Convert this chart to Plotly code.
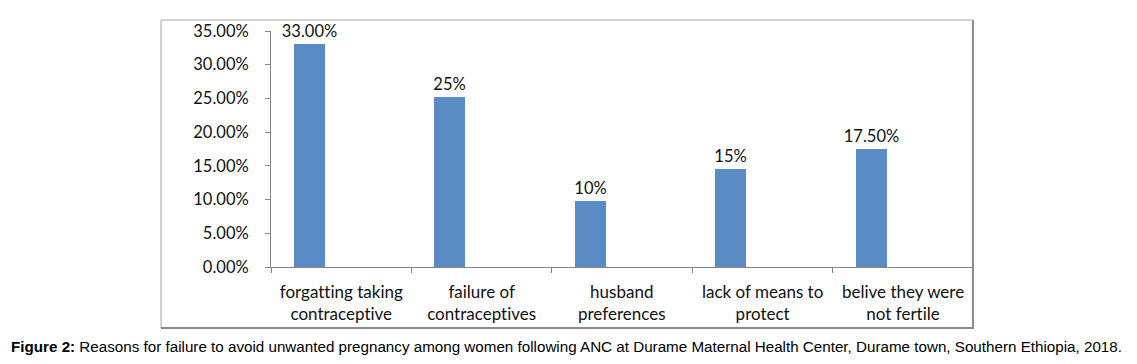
import plotly.graph_objects as go

categories = ["forgatting taking<br>contraceptive", "failure of<br>contraceptives",
              "husband<br>preferences", "lack of means to<br>protect",
              "belive they were<br>not fertile"]
values = [0.33, 0.252, 0.098, 0.145, 0.175]
bar_labels = ["33.00%", "25%", "10%", "15%", "17.50%"]
y_ticks = [0, 0.05, 0.10, 0.15, 0.20, 0.25, 0.30, 0.35]
caption = ("<b>Figure 2:</b> Reasons for failure to avoid unwanted pregnancy among women following ANC "
           "at Durame Maternal Health Center, Durame town, Southern Ethiopia, 2018.")

W, H = 1137, 364
PL, PR, PT, PB = 271, 973, 31, 267  # plot area in pixels


def px_x(p):
    return (p - PL) / (PR - PL)


def px_y(p):
    return (PB - p) / (PB - PT)


xs = list(range(len(values)))
FONT = "Lato"
AX = "#868686"

fig = go.Figure()
fig.add_trace(go.Bar(
    x=xs, y=values, offset=-0.336, width=0.221,
    marker=dict(color="#5B8BC4", line=dict(width=0)),
    text=bar_labels, textposition="outside", cliponaxis=False, constraintext="none",
    textfont=dict(family=FONT, size=16.5, color="#111111"),
    hoverinfo="skip",
))

annotations = []
for i, c in enumerate(categories):
    annotations.append(dict(
        x=i, y=0, xref="x", yref="y", text=c, showarrow=False,
        xanchor="center", yanchor="top", yshift=-12,
        font=dict(family=FONT, size=17, color="#111111"), align="center",
    ))
annotations.append(dict(
    x=px_x(9), y=px_y(346), xref="paper", yref="paper", text=caption,
    showarrow=False, xanchor="left", yanchor="middle",
    font=dict(family="Liberation Sans", size=15.2, color="#000000"),
))

shapes = [
    dict(type="line", xref="paper", yref="paper", x0=px_x(161), x1=px_x(973),
         y0=px_y(20), y1=px_y(20), line=dict(color="#a6a6a6", width=1)),
    dict(type="line", xref="paper", yref="paper", x0=px_x(161), x1=px_x(161),
         y0=px_y(20), y1=px_y(328), line=dict(color="#a6a6a6", width=1)),
    dict(type="line", xref="paper", yref="paper", x0=px_x(973), x1=px_x(973),
         y0=px_y(20), y1=px_y(328), line=dict(color="#8c8c8c", width=2)),
    dict(type="line", xref="paper", yref="paper", x0=px_x(161), x1=px_x(974),
         y0=px_y(328), y1=px_y(328), line=dict(color="#8c8c8c", width=2)),
]

fig.update_layout(
    width=W, height=H,
    margin=dict(l=PL, r=W - PR, t=PT, b=H - PB, pad=0),
    paper_bgcolor="white", plot_bgcolor="white",
    showlegend=False, bargap=0,
    annotations=annotations, shapes=shapes,
    xaxis=dict(range=[-0.5, len(values) - 0.5], tickvals=[i - 0.5 for i in range(len(values) + 1)],
               showticklabels=False, ticks="outside", ticklen=5, tickcolor=AX,
               showline=True, linecolor=AX, linewidth=1, showgrid=False, zeroline=False,
               fixedrange=True),
    yaxis=dict(range=[0, 0.35], tickvals=y_ticks, tickformat=".2%",
               ticks="outside", ticklen=5, tickcolor=AX, ticklabelstandoff=13,
               showline=True, linecolor=AX, linewidth=1, showgrid=False, zeroline=False,
               tickfont=dict(family=FONT, size=16.5, color="#111111"), fixedrange=True),
)

post = ("document.body.style.margin='0';document.body.style.overflow='hidden';"
        "document.head.insertAdjacentHTML('beforeend',"
        "'<style>text{font-variant-ligatures:none !important;font-feature-settings:\"liga\" 0 !important;}</style>');")
fig.write_html("out.html", config={"displayModeBar": False}, post_script=post)
